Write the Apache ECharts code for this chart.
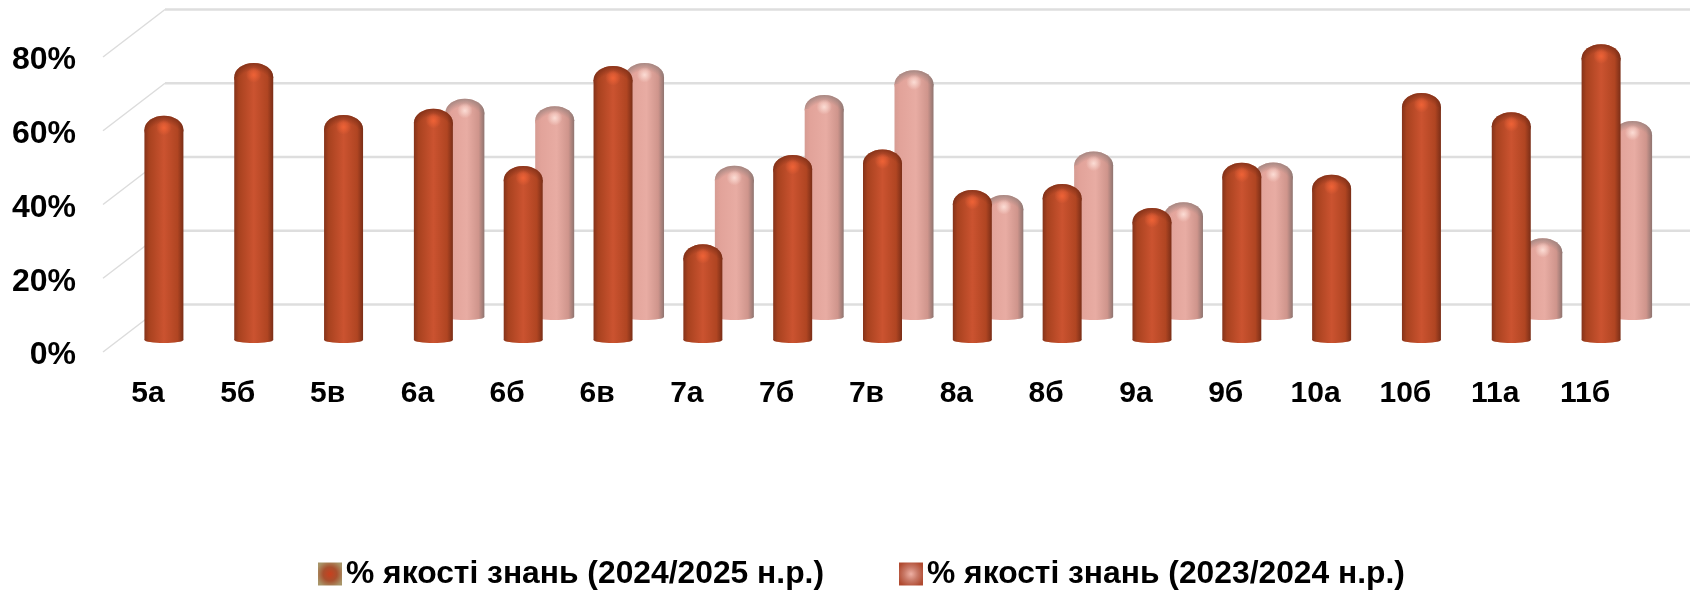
<!DOCTYPE html>
<html>
<head>
<meta charset="utf-8">
<style>html,body{margin:0;padding:0;background:#fff}#main{width:1698px;height:591px}</style>
<script src="https://cdn.jsdelivr.net/npm/echarts@6/dist/echarts.min.js"></script>
</head>
<body>
<div id="main"></div>
<script>
var categories = ['5а','5б','5в','6а','6б','6в','7а','7б','7в','8а','8б','9а','9б','10а','10б','11а','11б'];
var yTicks = [0, 20, 40, 60, 80];
var name2425 = '% якості знань (2024/2025 н.р.)';
var name2324 = '% якості знань (2023/2024 н.р.)';
var values2425 = [61.6, 75.9, 61.8, 63.5, 48, 75.1, 26.8, 51, 52.5, 41.5, 43.1, 36.6, 48.9, 45.6, 67.8, 62.6, 81];
var values2324 = [null, null, null, 60, 58, 69.7, 41.8, 61, 67.7, 33.9, 45.7, 31.9, 42.7, null, null, 22.2, 54];

var myChart = echarts.init(document.getElementById('main'));

function hGrad(stops) {
    return {type: 'linear', x: 0, y: 0, x2: 1, y2: 0, colorStops: stops};
}

var darkBody = hGrad([
    {offset: 0, color: '#85331a'}, {offset: 0.12, color: '#a8421f'},
    {offset: 0.5, color: '#cb5330'}, {offset: 0.85, color: '#b04522'}, {offset: 1, color: '#7a2e17'}
]);
var pinkBody = hGrad([
    {offset: 0, color: '#d69c93'}, {offset: 0.15, color: '#e2a39a'},
    {offset: 0.55, color: '#e8aca3'}, {offset: 0.85, color: '#cf958c'}, {offset: 1, color: '#8f7470'}
]);

// a bar is a cylinder with a dome on top, moved back by depth into the 3d box
function barItem(dx, dy, w, capH, body, capEdge, glow) {
    return function (params, api) {
        var v = api.value(1);
        if (isNaN(v)) return;
        var top = api.coord([api.value(0), v]);
        var base = api.coord([api.value(0), 0]);
        var cx = top[0] + dx;
        var topY = top[1] + dy;
        var baseY = base[1] + dy - 3;
        var capY = topY + capH;
        return {
            type: 'group',
            children: [
                {type: 'ellipse', shape: {cx: cx, cy: baseY, rx: w / 2, ry: 3}, style: {fill: body}},
                {type: 'ellipse', shape: {cx: cx, cy: capY, rx: w / 2, ry: capH}, style: {fill: body}},
                {type: 'ellipse', shape: {cx: cx, cy: capY, rx: w / 2, ry: capH}, style: {fill: {
                    type: 'radial', x: 0.5, y: 1, r: 1,
                    colorStops: [{offset: 0.72, color: capEdge + '00'}, {offset: 1, color: capEdge + 'cc'}]
                }}},
                {type: 'rect', shape: {x: cx - w / 2, y: capY, width: w, height: baseY - capY}, style: {fill: body}},
                {type: 'ellipse', shape: {cx: cx, cy: topY + capH * 0.85, rx: w * 0.3, ry: capH * 0.55}, style: {fill: {
                    type: 'radial', x: 0.5, y: 0.5, r: 0.5,
                    colorStops: [{offset: 0, color: glow}, {offset: 1, color: glow.slice(0, 7) + '00'}]
                }}}
            ]
        };
    };
}

// back wall lines and the slanted lines on the left side
function wallItem(params, api) {
    var y = api.coord([0, api.value(1)])[1];
    var x0 = params.coordSys.x;
    var x1 = x0 + params.coordSys.width;
    return {
        type: 'group',
        children: [
            {type: 'line', shape: {x1: x0, y1: y, x2: x0 + 62, y2: y - 47.5}, style: {stroke: '#dcdcdc', lineWidth: 1.5}},
            {type: 'line', shape: {x1: x0 + 62, y1: y - 47.5, x2: x1 + 60, y2: y - 47.5}, style: {stroke: '#dedede', lineWidth: 2.5}}
        ]
    };
}

var labelFont = 'Liberation Sans';

var option = {
    animation: false,
    grid: {left: 103, top: 57, width: 1527, height: 295},
    legend: {
        left: 318,
        top: 558,
        itemWidth: 24,
        itemHeight: 23,
        itemGap: 75,
        padding: 0,
        textStyle: {fontFamily: labelFont, fontWeight: 'bold', fontSize: 31.8, color: '#000', padding: [2, 0, 0, -1]},
        data: [
            {name: name2425, icon: 'rect', itemStyle: {color: {
                type: 'radial', x: 0.5, y: 0.5, r: 0.6,
                colorStops: [{offset: 0, color: '#c8401e'}, {offset: 0.5, color: '#a8502e'}, {offset: 1, color: '#a89468'}]
            }, borderWidth: 0}},
            {name: name2324, icon: 'rect', itemStyle: {color: {
                type: 'radial', x: 0.5, y: 0.5, r: 0.6,
                colorStops: [{offset: 0, color: '#eeb0a4'}, {offset: 0.5, color: '#c87866'}, {offset: 1, color: '#b04a30'}]
            }, borderWidth: 0}}
        ]
    },
    xAxis: {
        type: 'category',
        data: categories,
        axisLine: {show: false},
        axisTick: {show: false},
        splitLine: {show: false},
        axisLabel: {fontFamily: labelFont, fontWeight: 'bold', fontSize: 30, color: '#000', margin: 27, interval: 0}
    },
    yAxis: {
        type: 'value',
        min: 0,
        max: 80,
        interval: 20,
        axisLine: {show: false},
        axisTick: {show: false},
        splitLine: {show: false},
        axisLabel: {fontFamily: labelFont, fontWeight: 'bold', fontSize: 32, color: '#000', margin: 27, verticalAlign: 'top', lineHeight: 7, formatter: '{value}%'}
    },
    series: [
        {
            type: 'custom',
            silent: true,
            clip: false,
            z: 1,
            renderItem: wallItem,
            data: yTicks.map(function (t) { return [0, t]; })
        },
        {
            name: name2324,
            type: 'custom',
            clip: false,
            z: 2,
            renderItem: barItem(47.5, -32, 39, 14, pinkBody, '#96807c', '#fbdcd4ff'),
            data: values2324.map(function (v, i) { return [i, v === null ? '-' : v]; })
        },
        {
            name: name2425,
            type: 'custom',
            clip: false,
            z: 3,
            renderItem: barItem(16, -9, 39, 14, darkBody, '#7a2e17', '#ee6236ff'),
            data: values2425.map(function (v, i) { return [i, v]; })
        }
    ]
};

myChart.setOption(option);
</script>
</body>
</html>
